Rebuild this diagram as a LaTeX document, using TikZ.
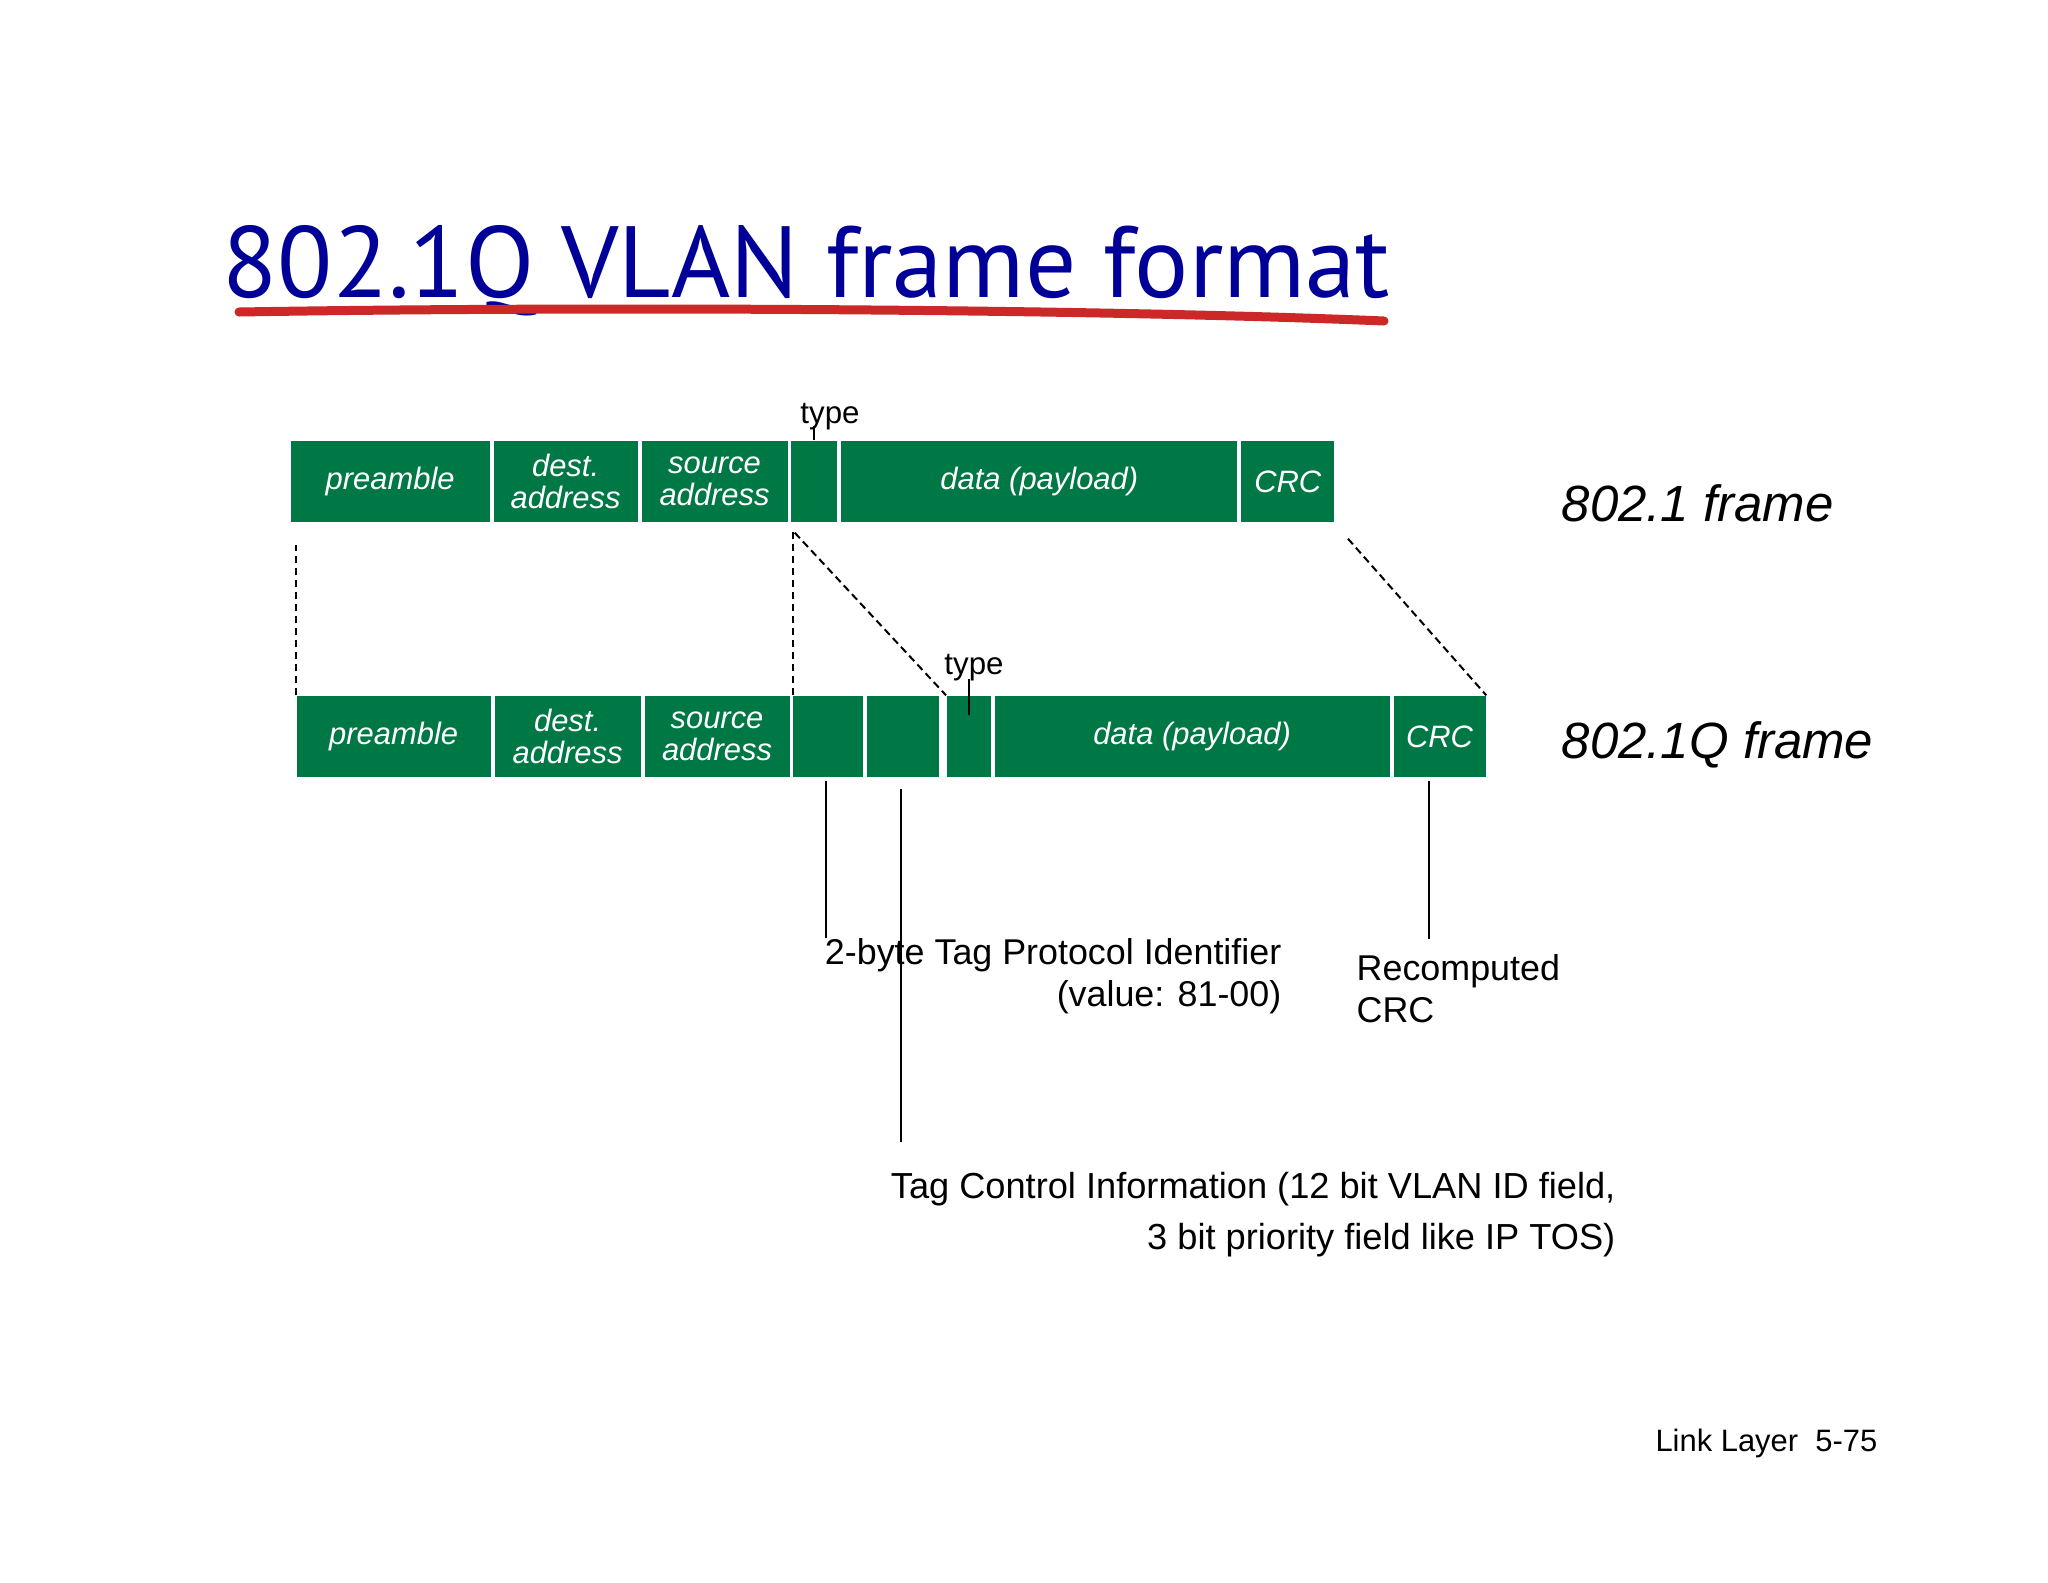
\documentclass[tikz,border=0pt]{standalone}
\usepackage{fontspec}
\setmainfont{Liberation Sans}
\newfontfamily\titlefont{PT Sans}
\usepackage{tikz}
\usetikzlibrary{positioning, calc}
\definecolor{frame_green}{RGB}{0,120,70}
\definecolor{title_blue}{RGB}{0,0,153}
\definecolor{pen_red}{RGB}{204,40,40}
\tikzstyle{field} = [rectangle, fill=frame_green, text=white, minimum height=8.1mm, inner sep=0pt, align=center, font=\fontsize{8.8}{9}\selectfont\itshape]
\tikzstyle{guide} = [line width=0.2mm, dash pattern=on 0.75mm off 0.45mm]
\tikzstyle{tick} = [line width=0.2mm]
\tikzstyle{note} = [inner sep=0pt, font=\fontsize{10.2}{11.9}\selectfont]

\begin{document}
\begin{tikzpicture}[x=1mm, y=-1mm, node distance=0.25mm]
        \useasboundingbox[fill=white] (0,0) rectangle (204.8,158.2);
        \node (title) [anchor=base west, inner sep=0pt, text=title_blue, font=\titlefont\fontsize{28.8}{34}\selectfont] at (22.2,29.7) {802.1Q VLAN frame format};
        \draw [pen_red, line width=0.9mm, line cap=round] (23.9,31.2) .. controls (60,30.6) and (110,30.9) .. (138.4,32.1);

        \node (pre1) [field, minimum width=19.9mm, anchor=west] at (29,48.15) {preamble};
        \node (dst1) [field, minimum width=14.4mm, right=of pre1] {dest.\\address};
        \node (src1) [field, minimum width=14.6mm, right=of dst1] {source\\address};
        \node (typ1) [field, minimum width=4.6mm, right=of src1] {};
        \node (dat1) [field, minimum width=39.6mm, right=of typ1] {data (payload)};
        \node (crc1) [field, minimum width=9.3mm, right=of dat1] {CRC};

        \node (pre2) [field, minimum width=19.4mm, anchor=west] at (29.6,73.65) {preamble};
        \node (dst2) [field, minimum width=14.6mm, right=of pre2] {dest.\\address};
        \node (src2) [field, minimum width=14.5mm, right=of dst2] {source\\address};
        \node (tpid) [field, minimum width=7mm, right=of src2] {};
        \node (tci) [field, minimum width=7.2mm, right=of tpid] {};
        \node (typ2) [field, minimum width=4.4mm, right=0.6mm of tci] {};
        \node (dat2) [field, minimum width=39.5mm, right=of typ2] {data (payload)};
        \node (crc2) [field, minimum width=9.2mm, right=of dat2] {CRC};

        \node (lab1) [anchor=base west, inner sep=0pt, font=\fontsize{14.5}{17}\selectfont\itshape] at (156.1,52.1) {802.1 frame};
        \node (lab2) [anchor=base west, inner sep=0pt, font=\fontsize{14.5}{17}\selectfont\itshape] at (156.1,75.8) {802.1Q frame};

        \node (tlab1) [anchor=base, inner sep=0pt, font=\fontsize{8.9}{10}\selectfont] at (83.0,42.3) {type};
        \node (tlab2) [anchor=base, inner sep=0pt, font=\fontsize{8.9}{10}\selectfont] at (97.4,67.4) {type};
        \draw [tick] (typ1.north) -- ([yshift=-0.3mm]typ1.north |- tlab1.base);
        \draw [tick] (typ2.north) ++(0,-1.6) -- ++(0,3.6);

        \draw [guide] (pre2.north west) -- ++(0,-15);
        \draw [guide] (tpid.north west) -- ++(0,-16.3);
        \draw [guide] (typ1.south west) ++(0.4,1.0) -- (typ2.north west);
        \draw [guide] (crc1.south east) ++(1.3,1.6) -- (crc2.north east);

        \node (tpidlab) [note, anchor=north east, align=right] at (128.2,93.8) {2-byte Tag Protocol Identifier\\(value: 81-00)};
        \node (crclab) [note, anchor=north west, align=left] at (135.6,95.4) {Recomputed\\CRC};
        \node (tcilab) [note, anchor=north east, align=right, font=\fontsize{10.3}{14.5}\selectfont] at (161.6,117.2) {Tag Control Information (12 bit VLAN ID field,\\3 bit priority field like IP TOS)};
        \draw [tick] ([xshift=-0.25mm, yshift=-0.3mm]tpid.south) -- ([xshift=-0.25mm]tpid.south |- tpidlab.north);
        \draw [tick] ([xshift=-0.2mm, yshift=-1.1mm]tci.south) -- ([xshift=-0.2mm, yshift=3mm]tci.south |- tcilab.north);
        \draw [tick] ([xshift=-1.1mm, yshift=-0.3mm]crc2.south) -- ([xshift=-1.1mm, yshift=1.5mm]crc2.south |- crclab.north);

        \node (foot) [anchor=base east, inner sep=0pt, font=\fontsize{8.8}{10}\selectfont] at (187.8,145.1) {Link Layer~~5-75};
    \end{tikzpicture}
\end{document}
